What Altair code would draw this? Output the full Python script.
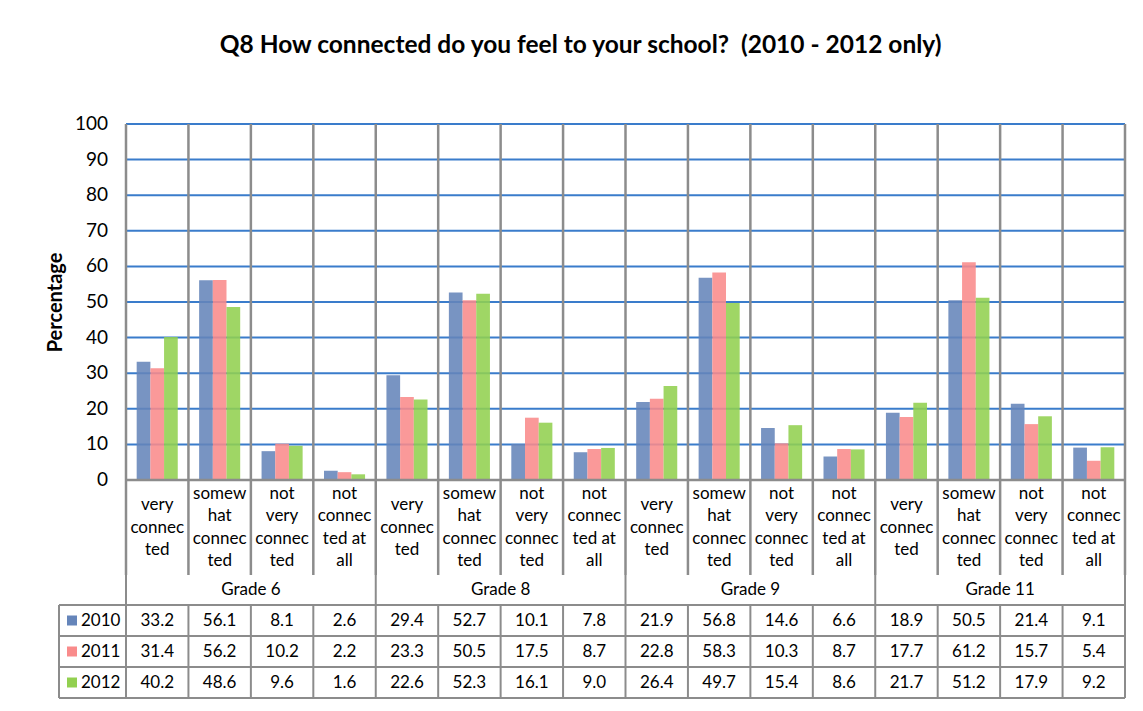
import altair as alt
import pandas as pd

grades = ["Grade 6", "Grade 8", "Grade 9", "Grade 11"]
categories = ["very connected", "somewhat connected", "not very connected", "not connected at all"]
category_lines = ["very|connec|ted", "somew|hat|connec|ted", "not|very|connec|ted", "not|connec|ted at|all"]
years = ["2010", "2011", "2012"]
v2010 = [33.2, 56.1, 8.1, 2.6, 29.4, 52.7, 10.1, 7.8, 21.9, 56.8, 14.6, 6.6, 18.9, 50.5, 21.4, 9.1]
v2011 = [31.4, 56.2, 10.2, 2.2, 23.3, 50.5, 17.5, 8.7, 22.8, 58.3, 10.3, 8.7, 17.7, 61.2, 15.7, 5.4]
v2012 = [40.2, 48.6, 9.6, 1.6, 22.6, 52.3, 16.1, 9.0, 26.4, 49.7, 15.4, 8.6, 21.7, 51.2, 17.9, 9.2]
year_colors = ["#6585BA", "#F98B8B", "#92D050"]
y_ticks = [0, 10, 20, 30, 40, 50, 60, 70, 80, 90, 100]

keys = [f"{g} / {c}" for g in grades for c in categories]
labels = category_lines * len(grades)

rows = []
for yr, vals in zip(years, [v2010, v2011, v2012]):
    for k, v in zip(keys, vals):
        rows.append({"key": k, "year": yr, "value": v})
df = pd.DataFrame(rows)
cat_df = pd.DataFrame({"key": keys, "label": labels})
grade_df = pd.DataFrame({"grade": grades})
year_df = pd.DataFrame({"year": years})
tick_df = pd.DataFrame({"t": y_ticks})
one = pd.DataFrame({"v": [0]})

W = 999
FONT = "Lato"
GREY = "#8C8C8C"
BLUE_GRID = "#3A7CCB"
band0 = alt.Scale(paddingInner=0, paddingOuter=0)


def x_key(**kw):
    return alt.X("key:N", sort=keys, scale=band0, axis=None, **kw)


def y_pct(field):
    return alt.Y(field, scale=alt.Scale(domain=[0, 100]),
                 axis=alt.Axis(labels=False, ticks=False, grid=False, domain=False,
                               title="Percentage", titleFontSize=20, titleFontWeight="bold",
                               titlePadding=61, titleColor="black"))


color = alt.Color("year:N", scale=alt.Scale(domain=years, range=year_colors), legend=None)


def right_edge(width=2.5):
    return alt.Chart(one).mark_rule(color=GREY, strokeWidth=width).encode(x=alt.value(W))


def separators(width=2.5):
    return alt.Chart(cat_df).mark_rule(color=GREY, strokeWidth=width).encode(x=x_key(bandPosition=0))


# ---- bars ----
grid = alt.Chart(tick_df).mark_rule(color=BLUE_GRID, strokeWidth=2).encode(y=y_pct("t:Q"))
tick_labels = alt.Chart(tick_df).mark_text(font=FONT, fontSize=19, align="right", baseline="middle",
                                           color="black").encode(
    y=y_pct("t:Q"), x=alt.value(-18), text="t:Q")
bars = alt.Chart(df).mark_bar(fillOpacity=0.88).encode(
    x=x_key(),
    xOffset=alt.XOffset("year:N", sort=years, scale=alt.Scale(paddingOuter=0.78, paddingInner=0)),
    y=y_pct("value:Q"),
    color=color,
)
top = alt.layer(grid, separators(), right_edge(), bars, tick_labels).properties(width=W, height=356)

# ---- category labels ----
cat_base = alt.Chart(cat_df).transform_calculate(n="length(split(datum.label, '|'))")
cats3 = cat_base.transform_filter("datum.n == 3").mark_text(
    font=FONT, fontSize=17, lineBreak="|", lineHeight=22.5, baseline="middle", dy=-22.5,
    color="black").encode(x=x_key(), text="label:N")
cats4 = cat_base.transform_filter("datum.n == 4").mark_text(
    font=FONT, fontSize=17, lineBreak="|", lineHeight=22.5, baseline="middle", dy=-33.75,
    color="black").encode(x=x_key(), text="label:N")
zero_line = alt.Chart(one).mark_rule(color=GREY, strokeWidth=2.5).encode(y=alt.value(0))
cat_chart = alt.layer(separators(), right_edge(), zero_line, cats3, cats4).properties(width=W, height=95)

# ---- grade row ----
x_grade = dict(sort=grades, scale=band0, axis=None)
grade_sep = alt.Chart(grade_df).mark_rule(color=GREY, strokeWidth=2).encode(
    x=alt.X("grade:N", bandPosition=0, **x_grade))
grade_text = alt.Chart(grade_df).mark_text(font=FONT, fontSize=17, baseline="middle", color="black").encode(
    x=alt.X("grade:N", **x_grade), text="grade:N")
grade_chart = alt.layer(grade_sep, right_edge(2), grade_text).properties(width=W, height=30)

# ---- data table ----
y_year = dict(sort=years, scale=band0, axis=None)
cells = alt.Chart(df).mark_text(font=FONT, fontSize=17, baseline="middle", color="black").encode(
    x=x_key(), y=alt.Y("year:N", **y_year), text=alt.Text("value:Q", format=".1f"))
hlines = alt.Chart(year_df).mark_rule(color=GREY, strokeWidth=2).encode(
    y=alt.Y("year:N", bandPosition=0, **y_year), x=alt.value(-67), x2=alt.value(W))
bottom = alt.Chart(year_df).transform_filter(alt.datum.year == "2012").mark_rule(
    color=GREY, strokeWidth=2).encode(
    y=alt.Y("year:N", bandPosition=1, **y_year), x=alt.value(-67), x2=alt.value(W))
left_edge = alt.Chart(one).mark_rule(color=GREY, strokeWidth=2).encode(x=alt.value(-67))
leg_sq = alt.Chart(year_df).mark_square(size=100, opacity=1).encode(
    x=alt.value(-54), y=alt.Y("year:N", **y_year), color=color)
leg_tx = alt.Chart(year_df).mark_text(font=FONT, fontSize=17, align="left", baseline="middle",
                                      color="black").encode(
    x=alt.value(-45), y=alt.Y("year:N", **y_year), text="year:N")
table = alt.layer(separators(2), right_edge(2), left_edge, hlines, bottom, cells, leg_sq, leg_tx
                  ).properties(width=W, height=93)

chart = alt.vconcat(top, cat_chart, grade_chart, table, spacing=0, bounds="flush").resolve_scale(
    x="independent", y="independent"
).properties(
    title=alt.TitleParams("Q8 How connected do you feel to your school?\u00a0 (2010 - 2012 only)",
                          font=FONT, fontSize=24.5, fontWeight="bold", color="black",
                          anchor="middle", offset=57, dx=-5),
    padding={"left": 37, "top": 24, "right": 5, "bottom": 0},
).configure(font=FONT).configure_view(stroke=None)

chart.save("out.html", embed_options={"renderer": "svg", "actions": False})
